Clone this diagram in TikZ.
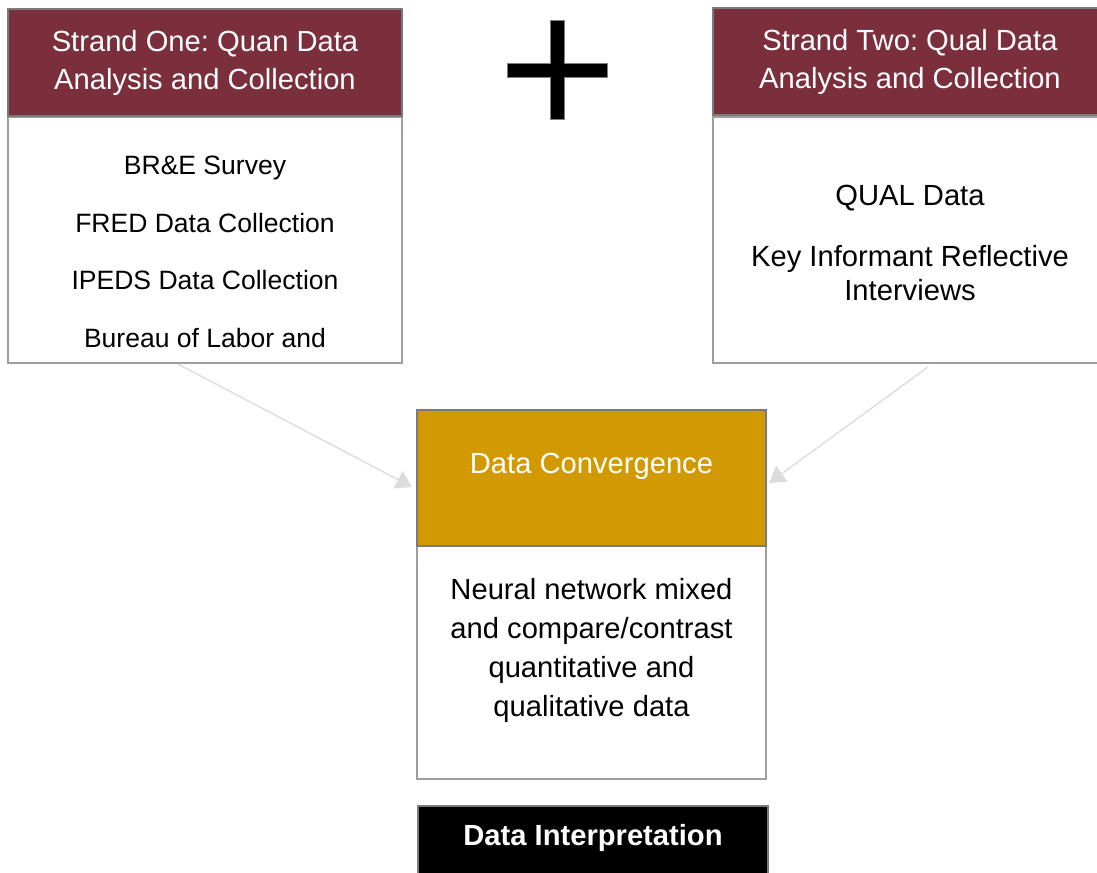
\documentclass[tikz,border=0pt]{standalone}
\usepackage{fontspec}
\setmainfont{Liberation Sans}
\usetikzlibrary{positioning,arrows.meta}
\frenchspacing

\definecolor{strandred}{HTML}{7B2E3C}
\definecolor{convgold}{HTML}{D39900}
\definecolor{edgegray}{HTML}{9E9E9E}
\definecolor{headgray}{HTML}{7A7A7A}
\definecolor{arrowgray}{HTML}{DCDCDC}

\tikzset{
    strandhead/.style={draw=headgray, line width=1.2pt, fill=strandred, text=white,
        minimum width=7.88cm, minimum height=2.14cm, inner sep=0pt, align=center,
        font=\fontsize{16.6}{21.6}\selectfont},
    strandbody/.style={draw=edgegray, line width=1.2pt, fill=white,
        minimum width=7.88cm, minimum height=4.92cm, inner sep=0pt},
    itemtext/.style={align=center, text=black, inner sep=0pt},
    feed/.style={draw=arrowgray, line width=0.8pt, -{Triangle[length=9pt, width=11pt]}}
}

\begin{document}
\begin{tikzpicture}[x=0.02cm, y=-0.02cm]
    \useasboundingbox (0,0) rectangle (1097,872);

    % strand one
    \node[strandbody] (quanbody) at (205,240) {};
    \node[strandhead] (quanhead) at (205,62.5) {Strand One: Quan Data\\Analysis and Collection};
    \node[itemtext, font=\fontsize{15.1}{32.7}\selectfont] (quanitems) at (205,252)
        {BR\&E Survey\\FRED Data Collection\\IPEDS Data Collection\\Bureau of Labor and};

    % strand two
    \node[strandbody] (qualbody) at (910,240) {};
    \node[strandhead] (qualhead) at (910,61.5) {Strand Two: Qual Data\\Analysis and Collection};
    \node[itemtext, font=\fontsize{16.6}{19.3}\selectfont] (qualitems) at (910,243)
        {QUAL Data\\[0.54cm]Key Informant Reflective\\Interviews};

    % plus sign
    \filldraw[draw=gray, line width=0.4pt, fill=black]
        (550,20) -- (564,20) -- (564,63) -- (607,63) -- (607,77) -- (564,77)
        -- (564,119) -- (550,119) -- (550,77) -- (507,77) -- (507,63) -- (550,63) -- cycle;

    % convergence
    \node[draw=edgegray, line width=1.2pt, fill=white, minimum width=6.98cm,
        minimum height=4.66cm, inner sep=0pt] (mixbody) at (591.5,662.5) {};
    \node[draw=headgray, line width=1.2pt, fill=convgold, minimum width=6.98cm,
        minimum height=2.72cm, inner sep=0pt] (conv) at (591.5,478) {};
    \node[itemtext, text=white, font=\fontsize{16.6}{20}\selectfont] (convtitle) at (591.5,466)
        {Data Convergence};
    \node[itemtext, font=\fontsize{16.6}{22.2}\selectfont] (mixitems) at (591.5,650)
        {Neural network mixed\\and compare/contrast\\quantitative and\\qualitative data};

    % interpretation
    \node[draw=headgray, line width=1.2pt, fill=black, minimum width=7cm,
        minimum height=1.6cm, inner sep=0pt] (interp) at (593,846) {};
    \node[itemtext, text=white, font=\bfseries\fontsize{16.6}{20}\selectfont] (interptitle) at (593,838)
        {Data Interpretation};

    \draw[feed] ([xshift=-0.54cm]quanbody.south) -- ([xshift=-0.08cm, yshift=-0.18cm]conv.west);
    \draw[feed] ([xshift=0.36cm, yshift=-0.06cm]qualbody.south) -- ([xshift=0.04cm, yshift=-0.1cm]conv.east);
\end{tikzpicture}
\end{document}
